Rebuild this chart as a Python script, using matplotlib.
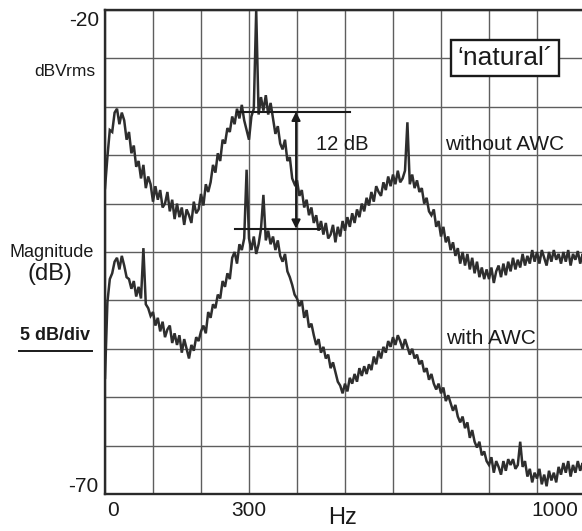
import numpy as np
import matplotlib
matplotlib.use("Agg")
import matplotlib.pyplot as plt

plt.rcParams['font.family'] = ['Liberation Sans', 'DejaVu Sans']

# frequency bins (Hz), 5 Hz spacing
freq_step = 5
# magnitude without AWC (dBVrms)
without_awc = [
    -38.4, -35.2, -32.4, -32.6, -30.6, -30.2, -31.8, -30.6, -31.4, -33.4,
    -32.6, -34.8, -34.0, -36.2, -35.6, -37.4, -36.0, -38.4, -37.2, -38.0,
    -39.8, -38.2, -39.6, -38.6, -40.4, -40.0, -38.8, -40.8, -39.6, -41.6,
    -40.0, -41.4, -40.4, -42.2, -40.6, -41.2, -42.0, -39.8, -41.0, -40.6,
    -39.0, -40.2, -38.0, -38.8, -37.8, -36.0, -36.8, -34.8, -35.6, -33.4,
    -33.8, -32.2, -32.6, -31.0, -31.8, -30.2, -31.2, -29.8, -31.4, -32.4,
    -33.4, -31.0, -30.2, -20.0, -30.8, -29.0, -30.4, -28.8, -30.8, -29.6,
    -31.2, -32.8, -32.0, -33.8, -34.4, -33.4, -35.6, -35.2, -37.4, -38.0,
    -37.6, -39.2, -38.6, -40.4, -39.6, -41.2, -40.4, -42.0, -41.2, -42.8,
    -41.8, -43.2, -42.0, -43.6, -43.2, -42.2, -44.0, -42.4, -43.4, -41.8,
    -42.8, -41.4, -42.4, -41.0, -42.0, -40.6, -41.4, -40.0, -40.8, -39.4,
    -40.2, -38.8, -39.8, -38.2, -38.8, -39.2, -37.8, -38.6, -37.2, -38.2,
    -37.0, -38.0, -36.6, -37.8, -37.4, -36.6, -31.6, -38.0, -37.0, -38.4,
    -37.6, -38.8, -38.4, -40.0, -39.4, -40.8, -41.2, -40.6, -42.4, -41.8,
    -43.4, -42.4, -44.0, -43.4, -44.8, -44.0, -45.4, -44.6, -46.2, -45.0,
    -46.4, -45.2, -46.8, -45.6, -47.2, -46.0, -47.6, -46.6, -47.8, -46.8,
    -47.8, -46.6, -48.2, -47.0, -46.4, -47.6, -46.2, -47.4, -46.0, -47.0,
    -45.6, -46.8, -45.8, -46.6, -45.2, -46.4, -45.4, -46.2, -44.8, -46.0,
    -45.0, -46.2, -44.8, -45.6, -46.4, -45.0, -46.0, -44.8, -45.8, -45.2,
    -46.2, -45.0, -46.0, -44.8, -46.4, -45.2, -45.8, -44.9, -46.2, -45.2,
    -45.6,
]
# magnitude with AWC (dBVrms)
with_awc = [
    -58.0, -50.2, -47.8, -47.2, -46.0, -45.6, -46.8, -45.4, -46.4, -47.6,
    -47.8, -48.8, -48.0, -49.6, -48.6, -49.8, -44.6, -50.4, -50.8, -51.6,
    -51.2, -52.6, -51.8, -53.2, -52.2, -53.8, -53.0, -52.6, -54.4, -53.4,
    -54.6, -53.6, -55.4, -54.0, -55.0, -56.0, -54.6, -55.2, -53.8, -54.2,
    -53.2, -52.6, -53.4, -51.2, -51.8, -50.4, -50.8, -49.4, -49.8, -48.0,
    -48.6, -47.2, -47.8, -45.6, -45.0, -46.2, -44.2, -44.8, -43.6, -36.5,
    -43.6, -44.8, -43.4, -45.2, -44.2, -42.6, -39.1, -43.8, -42.8, -44.2,
    -43.4, -44.8, -43.8, -45.4, -46.0, -45.2, -47.0, -47.6, -48.4, -49.4,
    -49.8, -50.6, -50.0, -51.8, -51.0, -52.8, -52.4, -53.6, -54.6, -54.0,
    -55.4, -54.8, -56.0, -55.6, -57.0, -56.4, -57.4, -58.4, -58.8, -59.6,
    -58.6, -59.4, -58.0, -58.6, -57.6, -58.4, -57.0, -57.8, -56.8, -57.6,
    -56.6, -57.2, -55.8, -56.6, -55.2, -56.0, -54.8, -55.4, -54.2, -54.8,
    -53.8, -54.6, -53.6, -54.2, -55.0, -54.0, -54.8, -55.6, -55.0, -56.0,
    -55.6, -56.6, -56.2, -57.4, -57.0, -58.2, -57.6, -58.6, -59.2, -58.6,
    -59.6, -59.0, -60.4, -59.8, -60.6, -61.4, -60.8, -62.0, -62.6, -62.0,
    -63.2, -62.6, -64.2, -63.4, -64.6, -65.2, -64.6, -66.0, -65.6, -66.6,
    -67.0, -66.2, -67.8, -66.6, -67.2, -68.0, -66.6, -67.6, -66.4, -67.0,
    -66.4, -67.4, -67.0, -64.6, -67.2, -66.6, -68.2, -67.4, -68.8, -67.8,
    -68.4, -67.4, -69.0, -68.0, -69.2, -67.6, -68.6, -67.8, -68.8, -67.2,
    -68.0, -66.8, -67.8, -66.6, -68.2, -67.0, -67.8, -66.6, -67.6, -66.8,
    -67.4,
]
x_tick_labels = {0: "0", 300: "300", 1000: "1000"}
y_top, y_bottom = -20, -70
# 12 dB marker levels and extents
mark_hi, mark_lo = -30.5, -42.6
mark_hi_span = (275, 510)
mark_lo_span = (271, 448)
arrow_x = 398

f_u = np.arange(len(without_awc)) * freq_step
f_l = np.arange(len(with_awc)) * freq_step

W, H = 582, 531
fig = plt.figure(figsize=(W / 100, H / 100), dpi=100)
fig.patch.set_facecolor('white')

def fx(px):
    return px / W

def fy(py):
    return 1 - py / H

ax = fig.add_axes([fx(105), fy(494), (585 - 105) / W, (494 - 10) / H])
ax.set_xlim(0, 1000)
ax.set_ylim(y_bottom, y_top)
ax.set_xticks(np.arange(0, 1001, 100))
ax.set_yticks(np.arange(y_bottom, y_top + 1, 5))
ax.grid(True, color='#5e5e5e', lw=1.0)
ax.set_axisbelow(True)
ax.tick_params(length=0, labelbottom=False, labelleft=False)
for s in ax.spines.values():
    s.set_color('#2a2a2a')
    s.set_linewidth(1.7)

trace = '#2e2e2e'
ax.plot(f_u, without_awc, color=trace, lw=1.8, solid_joinstyle='miter')
ax.plot(f_l, with_awc, color=trace, lw=1.8, solid_joinstyle='miter')

# 12 dB marker
ax.plot(mark_hi_span, [mark_hi, mark_hi], color='#1a1a1a', lw=1.5)
ax.plot(mark_lo_span, [mark_lo, mark_lo], color='#1a1a1a', lw=1.5)
ax.annotate('', xy=(arrow_x, mark_hi), xytext=(arrow_x, mark_lo),
            arrowprops=dict(arrowstyle='<|-|>', color='#1a1a1a', lw=1.4,
                            mutation_scale=13, shrinkA=0, shrinkB=0))

tc = '#1a1a1a'
fig.text(fx(342), fy(145), '12 dB', fontsize=14.5, ha='center', va='center', color=tc)
fig.text(fx(505), fy(145), 'without AWC', fontsize=15, ha='center', va='center', color=tc)
fig.text(fx(491), fy(339), 'with AWC', fontsize=15, ha='center', va='center', color=tc)
fig.text(fx(505), fy(58), '\u2018natural\u00b4', fontsize=19, ha='center', va='center', color=tc,
         bbox=dict(boxstyle='square,pad=0.22', fc='white', ec='#1a1a1a', lw=1.7))

# y-axis texts
fig.text(fx(99), fy(21), f'{y_top}', fontsize=15, ha='right', va='center', color=tc)
fig.text(fx(98), fy(486), f'{y_bottom}', fontsize=15, ha='right', va='center', color=tc)
fig.text(fx(95), fy(71), 'dBVrms', fontsize=12.5, ha='right', va='center', color=tc)
fig.text(fx(52), fy(252), 'Magnitude', fontsize=13, ha='center', va='center', color=tc)
fig.text(fx(50), fy(274), '(dB)', fontsize=17, ha='center', va='center', color=tc)
fig.text(fx(55), fy(335), '5 dB/div', fontsize=13, fontweight='bold', ha='center', va='center', color=tc)
fig.add_artist(plt.Line2D([fx(19), fx(92)], [fy(351), fy(351)], color=tc, lw=1.4))

# x-axis texts
for v, lab in x_tick_labels.items():
    px = 105 + v * 0.48
    if v == 0:
        px += 8
    if v == 1000:
        px = 555
    fig.text(fx(px), fy(511), lab, fontsize=15, ha='center', va='center', color=tc)
fig.text(fx(342), fy(518), 'Hz', fontsize=17, ha='center', va='center', color=tc)

fig.savefig('out.png', dpi=100, facecolor='white')
